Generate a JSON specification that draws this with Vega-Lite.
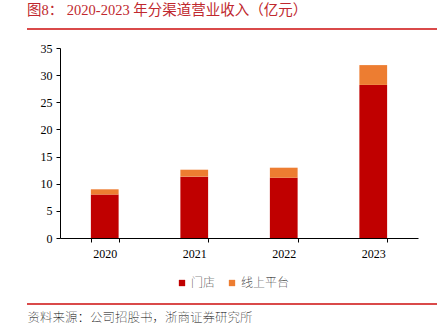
{
  "$schema": "https://vega.github.io/schema/vega-lite/v6.json",
  "autosize": "none",
  "width": 358,
  "height": 190,
  "padding": {"left": 60, "top": 48, "right": 19, "bottom": 89},
  "background": "white",
  "config": {"view": {"stroke": null}, "font": "Liberation Serif"},
  "title": {
    "text": "图8：  2020-2023 年分渠道营业收入（亿元）",
    "anchor": "start",
    "frame": "group",
    "dx": -33,
    "offset": 10,
    "font": "Liberation Serif, Noto Sans CJK SC",
    "fontSize": 14.5,
    "fontWeight": "normal",
    "color": "#C0282E"
  },
  "data": {
    "values": [
      {"year": "2020", "channel": "门店", "value": 8.0},
      {"year": "2020", "channel": "线上平台", "value": 0.97},
      {"year": "2021", "channel": "门店", "value": 11.3},
      {"year": "2021", "channel": "线上平台", "value": 1.28},
      {"year": "2022", "channel": "门店", "value": 11.1},
      {"year": "2022", "channel": "线上平台", "value": 1.85},
      {"year": "2023", "channel": "门店", "value": 28.2},
      {"year": "2023", "channel": "线上平台", "value": 3.65}
    ]
  },
  "layer": [
    {
      "mark": {"type": "bar"},
      "encoding": {
        "x": {
          "field": "year",
          "type": "nominal",
          "scale": {"paddingInner": 0.69, "paddingOuter": 0.345},
          "axis": {
            "labelAngle": 0,
            "labelFont": "Liberation Serif",
            "labelFontSize": 12,
            "labelColor": "#000",
            "labelPadding": 6,
            "domainColor": "#000",
            "tickColor": "#000",
            "tickSize": 4,
            "tickBand": "extent",
            "tickExtra": true,
            "title": "资料来源：公司招股书，浙商证券研究所",
            "titleFont": "Noto Sans CJK SC",
            "titleFontSize": 12.5,
            "titleFontWeight": "lighter",
            "titleColor": "#000",
            "titleAnchor": "start",
            "titleAlign": "left",
            "titleBaseline": "middle",
            "titleX": -33,
            "titleY": 79
          }
        },
        "y": {
          "field": "value",
          "type": "quantitative",
          "stack": "zero",
          "scale": {"domain": [0, 35], "nice": false},
          "axis": {
            "values": [0, 5, 10, 15, 20, 25, 30, 35],
            "grid": false,
            "title": null,
            "labelFont": "Liberation Serif",
            "labelFontSize": 12,
            "labelColor": "#000",
            "labelPadding": 4,
            "domainColor": "#000",
            "tickColor": "#000",
            "tickSize": 4
          }
        },
        "color": {
          "field": "channel",
          "type": "nominal",
          "sort": ["门店", "线上平台"],
          "scale": {"domain": ["门店", "线上平台"], "range": ["#C00000", "#ED7D31"]},
          "legend": {
            "orient": "none",
            "legendX": 116,
            "legendY": 229,
            "direction": "horizontal",
            "title": null,
            "symbolType": "square",
            "symbolSize": 40,
            "symbolStrokeWidth": 0,
            "labelFont": "Noto Sans CJK SC",
            "labelFontSize": 12,
            "labelFontWeight": "lighter",
            "labelColor": "#000",
            "labelOffset": 3,
            "columnPadding": 10
          }
        },
        "order": {"field": "channel", "sort": "descending"}
      }
    },
    {
      "mark": {"type": "rule", "color": "#D94B4B", "strokeWidth": 1},
      "encoding": {"x": {"value": -33}, "x2": {"value": 377}, "y": {"value": -19}}
    },
    {
      "mark": {"type": "rule", "color": "#D94B4B", "strokeWidth": 1},
      "encoding": {"x": {"value": -33}, "x2": {"value": 377}, "y": {"value": 256}}
    }
  ]
}
